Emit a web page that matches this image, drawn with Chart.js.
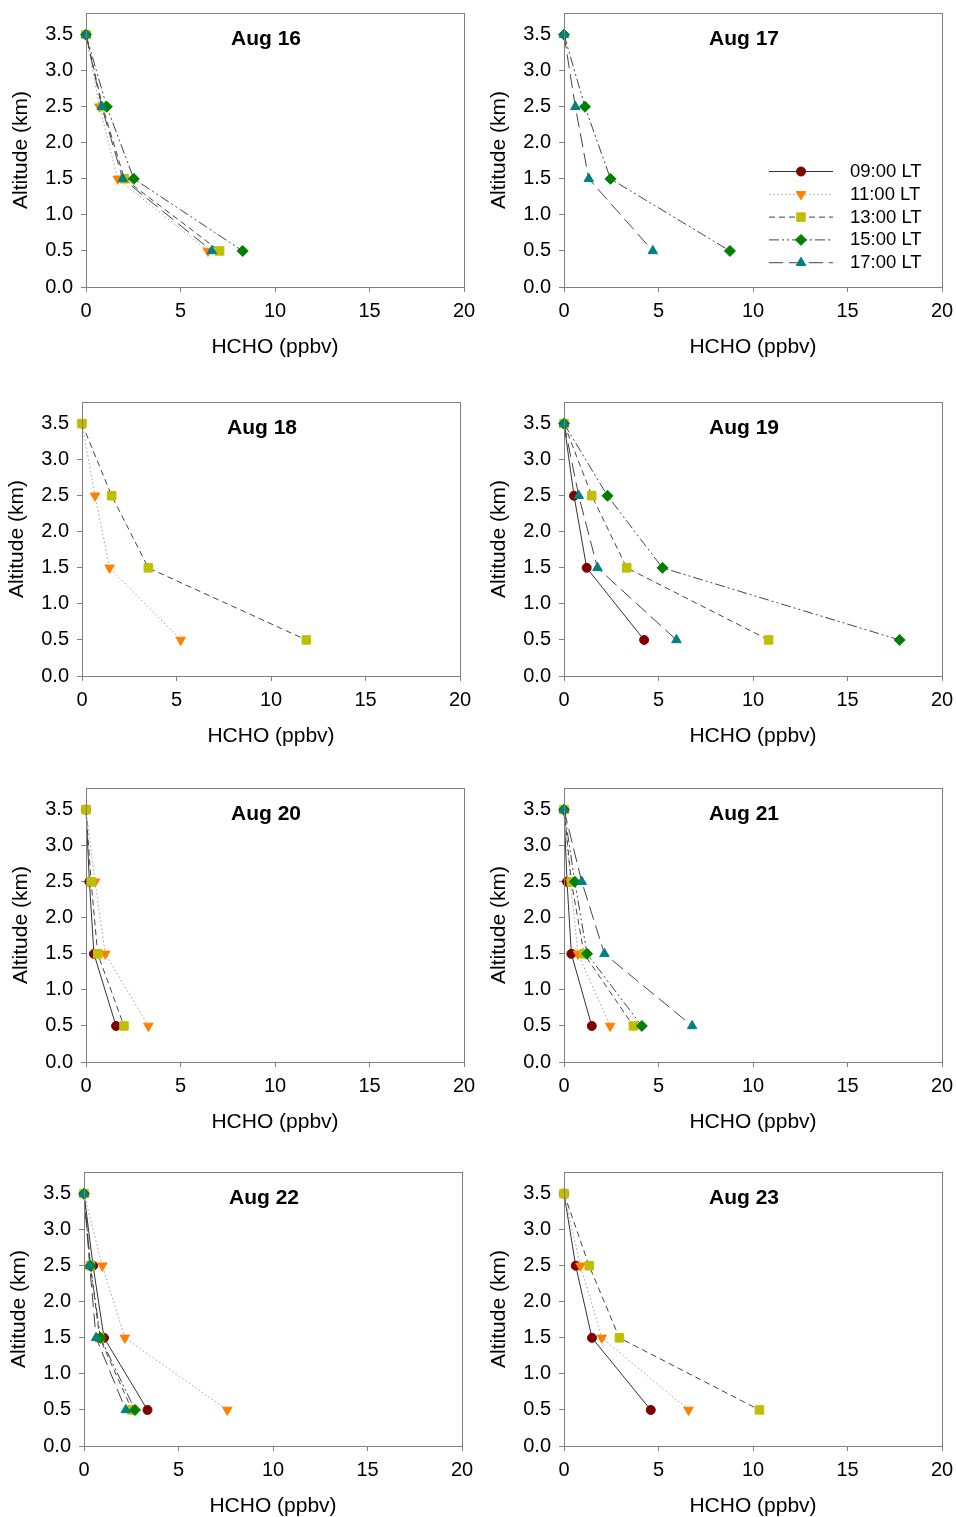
<!DOCTYPE html>
<html>
<head>
<meta charset="utf-8">
<script src="https://cdn.jsdelivr.net/npm/chart.js@4/dist/chart.umd.min.js"></script>
<style>
  body { margin: 0; background: #fff; width: 956px; height: 1517px; overflow: hidden; position: relative; }
  .panel { position: absolute; width: 478px; height: 375px; }
</style>
</head>
<body>
<div class="panel" style="left:0px;top:0px"><canvas id="c0" width="478" height="375"></canvas></div>
<div class="panel" style="left:478px;top:0px"><canvas id="c1" width="478" height="375"></canvas></div>
<div class="panel" style="left:-4px;top:389px"><canvas id="c2" width="478" height="375"></canvas></div>
<div class="panel" style="left:478px;top:389px"><canvas id="c3" width="478" height="375"></canvas></div>
<div class="panel" style="left:0px;top:775px"><canvas id="c4" width="478" height="375"></canvas></div>
<div class="panel" style="left:478px;top:775px"><canvas id="c5" width="478" height="375"></canvas></div>
<div class="panel" style="left:-2px;top:1159px"><canvas id="c6" width="478" height="375"></canvas></div>
<div class="panel" style="left:478px;top:1159px"><canvas id="c7" width="478" height="375"></canvas></div>
<script>
// altitude levels of every profile (km)
const altitudes = [3.5, 2.5, 1.5, 0.5];
const timeLabels = ['09:00 LT', '11:00 LT', '13:00 LT', '15:00 LT', '17:00 LT'];
const dayTitles = ['Aug 16', 'Aug 17', 'Aug 18', 'Aug 19', 'Aug 20', 'Aug 21', 'Aug 22', 'Aug 23'];
const xTicks = [0, 5, 10, 15, 20];
const yTicks = [0, 0.5, 1, 1.5, 2, 2.5, 3, 3.5];

// HCHO (ppbv) at 3.5 / 2.5 / 1.5 / 0.5 km, one entry per launch time, null = no flight
const aug16 = [null, [0, 0.71, 1.68, 6.45], [0, 0.88, 2.03, 7.07], [0, 1.1, 2.53, 8.29], [0, 0.83, 1.94, 6.66]];
const aug17 = [null, null, null, [0, 1.11, 2.46, 8.78], [0, 0.6, 1.31, 4.7]];
const aug18 = [null, [0, 0.69, 1.46, 5.22], [0, 1.57, 3.51, 11.87], null, null];
const aug19 = [[0, 0.53, 1.2, 4.24], null, [0, 1.47, 3.32, 10.83], [0, 2.3, 5.21, 17.76], [0, 0.78, 1.77, 5.95]];
const aug20 = [[0, 0.18, 0.42, 1.59], [0, 0.48, 1.02, 3.3], [0, 0.27, 0.62, 2.01], null, null];
const aug21 = [[0, 0.16, 0.39, 1.47], [0, 0.34, 0.74, 2.44], [0, 0.39, 1.06, 3.67], [0, 0.57, 1.22, 4.12], [0, 0.94, 2.14, 6.78]];
const aug22 = [[0, 0.48, 1.06, 3.36], [0, 0.97, 2.16, 7.58], [0, 0.34, 0.83, 2.54], [0, 0.34, 0.87, 2.7], [0, 0.3, 0.64, 2.21]];
const aug23 = [[0, 0.62, 1.48, 4.59], [0, 0.87, 2.0, 6.59], [0, 1.33, 2.93, 10.34], null, null];
const days = [aug16, aug17, aug18, aug19, aug20, aug21, aug22, aug23];

// marker / line styles per launch time
const markerColors = ['#800000', '#FF8000', '#BFBF00', '#008000', '#008080'];
const markerShapes = ['circle', 'triangle', 'rect', 'rectRot', 'triangle'];
const markerRotations = [0, 180, 0, 0, 0];
const markerSizes = [4.5, 5.5, 6, 5.5, 5.5];
const lineColors = ['#333333', '#a0a0a0', '#444444', '#444444', '#444444'];
const lineDashes = [[], [1.5, 2.5], [6, 4], [10, 3, 2, 3, 2, 3], [14, 6]];

Chart.defaults.font.family = '"Liberation Sans", Arial, sans-serif';
Chart.defaults.color = '#000';

const axisGray = '#808080';

// box round the plot area
const framePlugin = {
    id: 'frame',
    afterDraw(chart) {
        const a = chart.chartArea;
        const ctx = chart.ctx;
        ctx.save();
        ctx.strokeStyle = axisGray;
        ctx.lineWidth = 1;
        ctx.strokeRect(a.left + 0.5, a.top + 0.5, a.right - a.left, a.bottom - a.top);
        ctx.restore();
    }
};

// day label inside the plot
const dayLabelPlugin = {
    id: 'dayLabel',
    afterDraw(chart, args, opts) {
        const a = chart.chartArea;
        const ctx = chart.ctx;
        ctx.save();
        ctx.font = 'bold 21px "Liberation Sans", Arial, sans-serif';
        ctx.fillStyle = '#000';
        ctx.textAlign = 'center';
        ctx.textBaseline = 'middle';
        ctx.fillText(opts.text, a.left + 180, a.top + 26);
        ctx.restore();
    }
};

// excel-style legend (line sample with marker in the middle)
const sampleLegendPlugin = {
    id: 'sampleLegend',
    afterDraw(chart, args, opts) {
        if (!opts.show) return;
        const a = chart.chartArea;
        const ctx = chart.ctx;
        ctx.save();
        for (let i = 0; i < timeLabels.length; i++) {
            const y = a.top + 158 + i * 22.8;
            const x0 = a.left + 205, x1 = a.left + 269, xm = a.left + 237;
            ctx.strokeStyle = lineColors[i];
            ctx.lineWidth = 1;
            ctx.setLineDash(lineDashes[i]);
            ctx.beginPath();
            ctx.moveTo(x0, y + 0.5);
            ctx.lineTo(x1, y + 0.5);
            ctx.stroke();
            ctx.setLineDash([]);
            ctx.fillStyle = markerColors[i];
            ctx.strokeStyle = markerColors[i];
            Chart.helpers.drawPoint(ctx, {
                pointStyle: markerShapes[i],
                radius: markerSizes[i],
                rotation: markerRotations[i],
                borderWidth: 1
            }, xm, y + 0.5);
            ctx.fillStyle = '#000';
            ctx.font = '18.5px "Liberation Sans", Arial, sans-serif';
            ctx.textAlign = 'left';
            ctx.textBaseline = 'middle';
            ctx.fillText(timeLabels[i], a.left + 286, y + 1);
        }
        ctx.restore();
    }
};

function buildDatasets(profiles) {
    const sets = [];
    profiles.forEach((vals, i) => {
        if (!vals) return;
        sets.push({
            label: timeLabels[i],
            data: vals.map((v, k) => ({ x: v, y: altitudes[k] })),
            order: 10 - i,   // later launches on top
            clip: false,
            showLine: true,
            borderColor: lineColors[i],
            borderWidth: 1,
            borderDash: lineDashes[i],
            pointStyle: markerShapes[i],
            pointRotation: markerRotations[i],
            pointRadius: markerSizes[i],
            pointBackgroundColor: markerColors[i],
            pointBorderColor: markerColors[i],
            pointBorderWidth: 1,
            fill: false
        });
    });
    return sets;
}

days.forEach((profiles, idx) => {
    const ctx = document.getElementById('c' + idx).getContext('2d');
    new Chart(ctx, {
        type: 'scatter',
        data: { datasets: buildDatasets(profiles) },
        options: {
            responsive: false,
            animation: false,
            layout: { padding: { left: 0, top: 13, right: 14, bottom: 0 } },
            plugins: {
                legend: { display: false },
                tooltip: { enabled: false },
                dayLabel: { text: dayTitles[idx] },
                sampleLegend: { show: idx === 1 }
            },
            scales: {
                x: {
                    type: 'linear',
                    min: xTicks[0],
                    max: xTicks[xTicks.length - 1],
                    afterFit: (scale) => {
                        scale.height = 88;
                        scale.paddingLeft = 0;
                        scale.paddingRight = 0;
                    },
                    afterBuildTicks: (scale) => { scale.ticks = xTicks.map(v => ({ value: v })); },
                    ticks: { font: { size: 20 }, padding: 7, maxRotation: 0, color: '#000' },
                    grid: { drawOnChartArea: false, tickLength: 5, color: axisGray },
                    border: { color: axisGray },
                    title: {
                        display: true,
                        text: 'HCHO (ppbv)',
                        font: { size: 21 },
                        padding: { top: 0, bottom: 15 }
                    }
                },
                y: {
                    type: 'linear',
                    min: 0,
                    max: 3.8,
                    afterFit: (scale) => {
                        scale.width = 86;
                        scale.paddingTop = 0;
                        scale.paddingBottom = 0;
                    },
                    afterBuildTicks: (scale) => { scale.ticks = yTicks.map(v => ({ value: v })); },
                    ticks: { font: { size: 20 }, padding: 8, color: '#000', callback: (v) => Number(v).toFixed(1) },
                    grid: { drawOnChartArea: false, tickLength: 5, color: axisGray },
                    border: { color: axisGray },
                    title: {
                        display: true,
                        text: 'Altitude (km)',
                        font: { size: 21 },
                        padding: { top: 9, bottom: 0 }
                    }
                }
            }
        },
        plugins: [framePlugin, dayLabelPlugin, sampleLegendPlugin]
    });
});
</script>
</body>
</html>
